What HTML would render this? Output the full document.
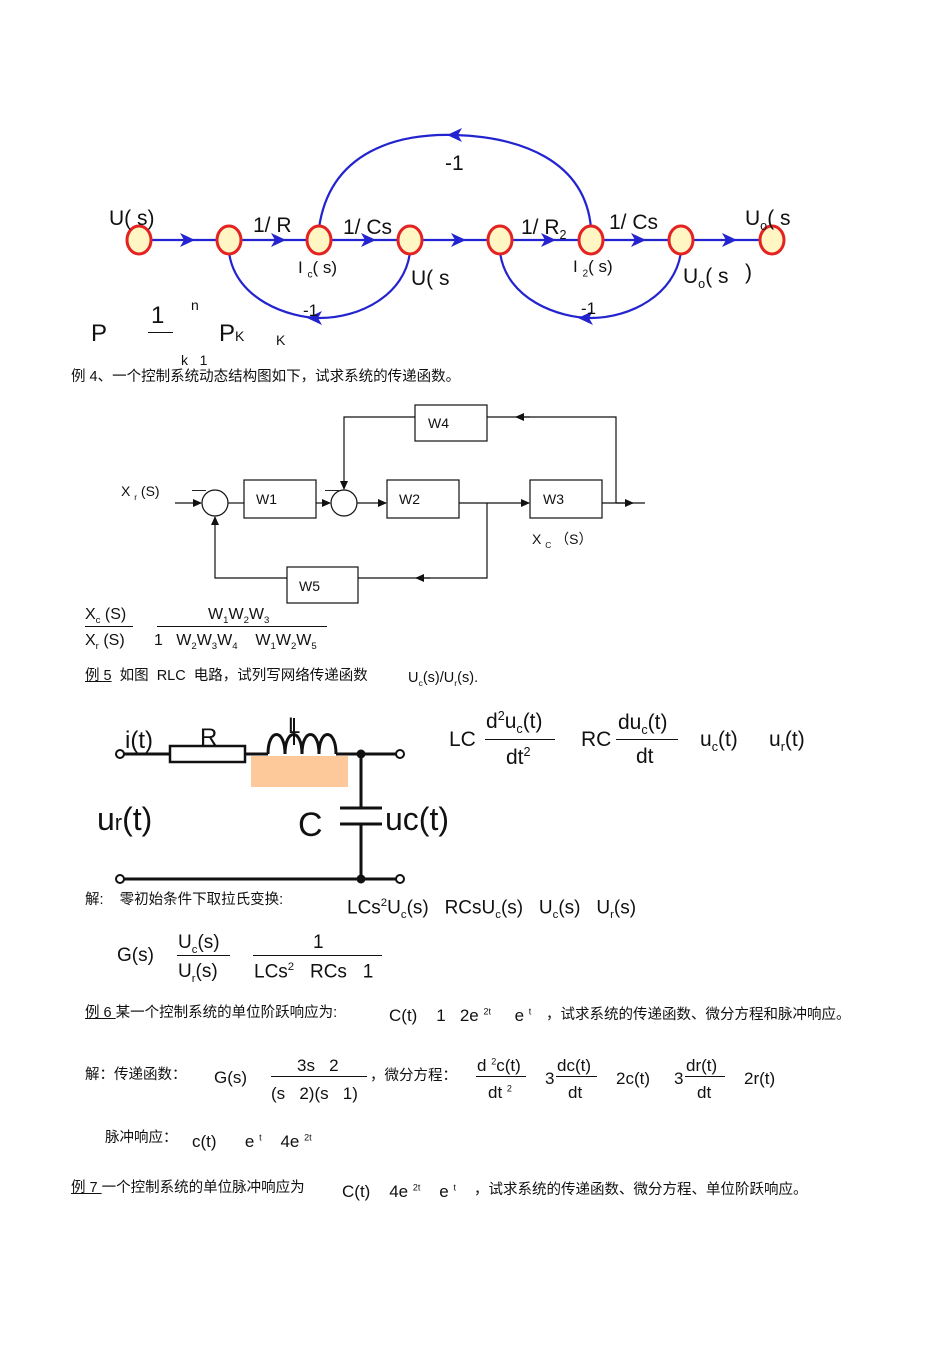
<!DOCTYPE html>
<html><head><meta charset="utf-8">
<style>
body{margin:0;width:950px;height:1345px;background:#fff;position:relative;overflow:hidden;font-family:"Liberation Sans","Noto Sans CJK SC",sans-serif;color:#111}
.t{position:absolute;white-space:nowrap;line-height:1}
.cn{font-size:14.5px}
.m{font-size:17px}
.b{font-size:21px}
.s{font-size:14px}
sub,sup{font-size:60%}
.u{text-decoration:underline}
.fl{position:absolute;height:1px;background:#111}
</style></head><body>
<svg width="950" height="1345" style="position:absolute;left:0;top:0">
<defs>
<marker id="ab" markerWidth="16" markerHeight="14" refX="7" refY="7" orient="auto" markerUnits="userSpaceOnUse"><path d="M0,0 L15,7 L0,14 L4,7 Z" fill="#2323d0"/></marker>
<marker id="ak" markerWidth="9" markerHeight="8" refX="8" refY="4" orient="auto" markerUnits="userSpaceOnUse"><path d="M0,0 L9,4 L0,8 Z" fill="#111"/></marker>
</defs>
<g stroke="#2323d0" stroke-width="2.2" fill="none">
<line x1="139" y1="240" x2="772" y2="240"/>
<path d="M319,228 C330,150 400,133 455,135 C520,137 585,160 591,228"/>
<path d="M229,252 C235,300 290,318 320,318 C360,318 405,295 410,252"/>
<path d="M500,252 C506,300 560,318 591,318 C630,318 675,295 681,252"/>
</g>
<g stroke="none">
<path d="M186,240 l1,0" marker-end="url(#ab)"/>
<path d="M277,240 l1,0" marker-end="url(#ab)"/>
<path d="M367,240 l1,0" marker-end="url(#ab)"/>
<path d="M457,240 l1,0" marker-end="url(#ab)"/>
<path d="M547,240 l1,0" marker-end="url(#ab)"/>
<path d="M637,240 l1,0" marker-end="url(#ab)"/>
<path d="M728,240 l1,0" marker-end="url(#ab)"/>
<path d="M456,135 l-1,0" marker-end="url(#ab)"/>
<path d="M316,318 l-1,0" marker-end="url(#ab)"/>
<path d="M587,318 l-1,0" marker-end="url(#ab)"/>
</g>
<g fill="#fff6c4" stroke="#e52222" stroke-width="3">
<ellipse cx="139" cy="240" rx="12" ry="14"/><ellipse cx="229" cy="240" rx="12" ry="14"/>
<ellipse cx="319" cy="240" rx="12" ry="14"/><ellipse cx="410" cy="240" rx="12" ry="14"/>
<ellipse cx="500" cy="240" rx="12" ry="14"/><ellipse cx="591" cy="240" rx="12" ry="14"/>
<ellipse cx="681" cy="240" rx="12" ry="14"/><ellipse cx="772" cy="240" rx="12" ry="14"/>
</g>
<!-- block diagram -->
<g stroke="#111" stroke-width="1.2" fill="none">
<rect x="415" y="405" width="72" height="36"/>
<rect x="244" y="480" width="72" height="38"/>
<rect x="387" y="480" width="72" height="38"/>
<rect x="530" y="480" width="72" height="38"/>
<rect x="287" y="567" width="71" height="36"/>
<circle cx="215" cy="503" r="13"/><circle cx="344" cy="503" r="13"/>
<line x1="175" y1="503" x2="201" y2="503" marker-end="url(#ak)"/>
<line x1="228" y1="503" x2="244" y2="503"/>
<line x1="316" y1="503" x2="330" y2="503" marker-end="url(#ak)"/>
<line x1="357" y1="503" x2="386" y2="503" marker-end="url(#ak)"/>
<line x1="459" y1="503" x2="529" y2="503" marker-end="url(#ak)"/>
<line x1="602" y1="503" x2="645" y2="503"/>
<line x1="616" y1="503" x2="633" y2="503" marker-end="url(#ak)"/>
<polyline points="616,503 616,417 487,417"/>
<line x1="530" y1="417" x2="516" y2="417" marker-end="url(#ak)"/>
<polyline points="415,417 344,417 344,489" marker-end="url(#ak)"/>
<polyline points="487,503 487,578 358,578"/>
<line x1="430" y1="578" x2="416" y2="578" marker-end="url(#ak)"/>
<polyline points="287,578 215,578 215,517" marker-end="url(#ak)"/>
</g>
<!-- circuit -->
<g stroke="#111" stroke-width="3" fill="none">
<rect x="251" y="756" width="97" height="31" fill="#fdc99a" stroke="none"/>
<line x1="120" y1="754" x2="170" y2="754"/>
<rect x="170" y="746" width="75" height="16" stroke-width="2.5"/>
<line x1="245" y1="754" x2="268" y2="754"/>
<path d="M268,754 C268,728 285,728 285,754 C285,728 302,728 302,754 C302,728 319,728 319,754 C319,728 336,728 336,754" stroke="#111"/>
<line x1="294" y1="718" x2="294" y2="745" stroke-width="2"/>
<line x1="336" y1="754" x2="400" y2="754"/>
<line x1="361" y1="754" x2="361" y2="808"/>
<line x1="340" y1="808" x2="382" y2="808"/>
<line x1="340" y1="824" x2="382" y2="824"/>
<line x1="361" y1="824" x2="361" y2="879"/>
<line x1="120" y1="879" x2="400" y2="879"/>
<circle cx="120" cy="754" r="4" stroke-width="2" fill="#fff"/>
<circle cx="400" cy="754" r="4" stroke-width="2" fill="#fff"/>
<circle cx="120" cy="879" r="4" stroke-width="2" fill="#fff"/>
<circle cx="400" cy="879" r="4" stroke-width="2" fill="#fff"/>
<circle cx="361" cy="754" r="3" fill="#111"/><circle cx="361" cy="879" r="3" fill="#111"/>
</g>
</svg>

<!-- top graph labels -->
<div class="t b" style="left:109px;top:208px">U( s)</div>
<div class="t b" style="left:253px;top:215px">1/ R</div>
<div class="t b" style="left:343px;top:217px">1/ Cs</div>
<div class="t b" style="left:521px;top:217px">1/ R<sub>2</sub></div>
<div class="t b" style="left:609px;top:212px">1/ Cs</div>
<div class="t b" style="left:745px;top:208px">U<sub>o</sub>( s</div>
<div class="t b" style="left:445px;top:153px">-1</div>
<div class="t m" style="left:298px;top:259px">I <sub>c</sub>( s)</div>
<div class="t m" style="left:573px;top:258px">I <sub>2</sub>( s)</div>
<div class="t b" style="left:411px;top:268px">U( s</div>
<div class="t b" style="left:683px;top:266px">U<sub>o</sub>( s</div>
<div class="t b" style="left:745px;top:262px">)</div>
<div class="t m" style="left:303px;top:302px">-1</div>
<div class="t m" style="left:581px;top:300px">-1</div>
<div class="t b" style="left:91px;top:322px;font-size:24px">P</div>
<div class="t b" style="left:151px;top:304px;font-size:24px">1</div>
<div class="fl" style="left:148px;top:332px;width:25px"></div>
<div class="t s" style="left:191px;top:298px">n</div>
<div class="t b" style="left:219px;top:322px;font-size:24px">P<span style="font-size:14px">K</span></div>
<div class="t s" style="left:276px;top:333px">K</div>
<div class="t s" style="left:181px;top:353px">k&nbsp;&nbsp; 1</div>
<div class="t cn" style="left:71px;top:370px">例 4、一个控制系统动态结构图如下，试求系统的传递函数。</div>

<!-- block labels -->
<div class="t s" style="left:428px;top:416px">W4</div>
<div class="t s" style="left:256px;top:492px">W1</div>
<div class="t s" style="left:399px;top:492px">W2</div>
<div class="t s" style="left:543px;top:492px">W3</div>
<div class="t s" style="left:299px;top:579px">W5</div>
<div class="t s" style="left:121px;top:484px">X <sub>r</sub> (S)</div>
<div class="t s" style="left:192px;top:482px">—</div>
<div class="t s" style="left:325px;top:482px">—</div>
<div class="t s" style="left:532px;top:532px">X <sub>C</sub> （S）</div>

<div class="t m" style="left:85px;top:607px;font-size:16px">X<sub>c</sub> (S)</div>
<div class="fl" style="left:85px;top:626px;width:48px"></div>
<div class="t m" style="left:85px;top:633px;font-size:16px">X<sub>r</sub> (S)</div>
<div class="t m" style="left:208px;top:607px;font-size:16px">W<sub>1</sub>W<sub>2</sub>W<sub>3</sub></div>
<div class="fl" style="left:157px;top:626px;width:170px"></div>
<div class="t m" style="left:154px;top:633px;font-size:16px">1&nbsp;&nbsp; W<sub>2</sub>W<sub>3</sub>W<sub>4</sub>&nbsp;&nbsp;&nbsp; W<sub>1</sub>W<sub>2</sub>W<sub>5</sub></div>

<div class="t cn" style="left:85px;top:669px"><span class="u">例 5</span>&nbsp; 如图&nbsp; RLC&nbsp; 电路，试列写网络传递函数</div>
<div class="t cn" style="left:408px;top:671px">U<sub>c</sub>(s)/U<sub>r</sub>(s).</div>

<!-- circuit labels -->
<div class="t b" style="left:125px;top:729px;font-size:24px">i(t)</div>
<div class="t b" style="left:200px;top:726px;font-size:24px">R</div>
<div class="t b" style="left:288px;top:715px;font-size:22px">L</div>
<div class="t b" style="left:97px;top:803px;font-size:32px">u<span style="font-size:22px">r</span>(t)</div>
<div class="t b" style="left:298px;top:808px;font-size:34px">C</div>
<div class="t b" style="left:385px;top:803px;font-size:32px">uc(t)</div>

<div class="t b" style="left:449px;top:729px">LC</div>
<div class="t b" style="left:486px;top:710px">d<sup>2</sup>u<sub>c</sub>(t)</div>
<div class="fl" style="left:485px;top:739px;width:70px"></div>
<div class="t b" style="left:506px;top:746px">dt<sup>2</sup></div>
<div class="t b" style="left:581px;top:729px">RC</div>
<div class="t b" style="left:618px;top:712px">du<sub>c</sub>(t)</div>
<div class="fl" style="left:616px;top:739px;width:62px"></div>
<div class="t b" style="left:636px;top:746px">dt</div>
<div class="t b" style="left:700px;top:729px">u<sub>c</sub>(t)</div>
<div class="t b" style="left:769px;top:729px">u<sub>r</sub>(t)</div>

<div class="t cn" style="left:85px;top:893px">解:&nbsp;&nbsp;&nbsp; 零初始条件下取拉氏变换:</div>
<div class="t b" style="left:347px;top:898px;font-size:19px">LCs<sup>2</sup>U<sub>c</sub>(s)&nbsp;&nbsp; RCsU<sub>c</sub>(s)&nbsp;&nbsp; U<sub>c</sub>(s)&nbsp;&nbsp; U<sub>r</sub>(s)</div>

<div class="t b" style="left:117px;top:946px;font-size:19px">G(s)</div>
<div class="t b" style="left:178px;top:933px;font-size:19px">U<sub>c</sub>(s)</div>
<div class="fl" style="left:177px;top:955px;width:53px"></div>
<div class="t b" style="left:178px;top:962px;font-size:19px">U<sub>r</sub>(s)</div>
<div class="t b" style="left:313px;top:933px;font-size:19px">1</div>
<div class="fl" style="left:253px;top:955px;width:129px"></div>
<div class="t b" style="left:254px;top:962px;font-size:19px">LCs<sup>2</sup>&nbsp;&nbsp; RCs&nbsp;&nbsp; 1</div>

<div class="t cn" style="left:85px;top:1006px"><span class="u">例 6 </span>某一个控制系统的单位阶跃响应为:</div>
<div class="t m" style="left:389px;top:1007px">C(t)&nbsp;&nbsp;&nbsp; 1&nbsp;&nbsp; 2e <sup style="font-size:9px">2t</sup>&nbsp;&nbsp;&nbsp;&nbsp; e <sup style="font-size:9px">t</sup></div>
<div class="t cn" style="left:546px;top:1008px">，试求系统的传递函数、微分方程和脉冲响应。</div>

<div class="t cn" style="left:85px;top:1068px">解：传递函数：</div>
<div class="t m" style="left:214px;top:1069px">G(s)</div>
<div class="t m" style="left:297px;top:1057px">3s&nbsp;&nbsp; 2</div>
<div class="fl" style="left:271px;top:1076px;width:96px"></div>
<div class="t m" style="left:271px;top:1085px">(s&nbsp;&nbsp; 2)(s&nbsp;&nbsp; 1)</div>
<div class="t cn" style="left:370px;top:1069px">，微分方程：</div>
<div class="t m" style="left:477px;top:1057px">d <sup style="font-size:9px">2</sup>c(t)</div>
<div class="fl" style="left:476px;top:1076px;width:50px"></div>
<div class="t m" style="left:488px;top:1084px">dt <sup style="font-size:9px">2</sup></div>
<div class="t m" style="left:545px;top:1070px">3</div>
<div class="t m" style="left:557px;top:1057px">dc(t)</div>
<div class="fl" style="left:556px;top:1076px;width:41px"></div>
<div class="t m" style="left:568px;top:1084px">dt</div>
<div class="t m" style="left:616px;top:1070px">2c(t)</div>
<div class="t m" style="left:674px;top:1070px">3</div>
<div class="t m" style="left:686px;top:1057px">dr(t)</div>
<div class="fl" style="left:685px;top:1076px;width:40px"></div>
<div class="t m" style="left:697px;top:1084px">dt</div>
<div class="t m" style="left:744px;top:1070px">2r(t)</div>

<div class="t cn" style="left:105px;top:1131px">脉冲响应：</div>
<div class="t m" style="left:192px;top:1133px">c(t)&nbsp;&nbsp;&nbsp;&nbsp;&nbsp; e <sup style="font-size:9px">t</sup>&nbsp;&nbsp;&nbsp; 4e <sup style="font-size:9px">2t</sup></div>

<div class="t cn" style="left:71px;top:1181px"><span class="u">例 7 </span>一个控制系统的单位脉冲响应为</div>
<div class="t m" style="left:342px;top:1183px">C(t)&nbsp;&nbsp;&nbsp; 4e <sup style="font-size:9px">2t</sup>&nbsp;&nbsp;&nbsp; e <sup style="font-size:9px">t</sup></div>
<div class="t cn" style="left:474px;top:1183px">，试求系统的传递函数、微分方程、单位阶跃响应。</div>
</body></html>
